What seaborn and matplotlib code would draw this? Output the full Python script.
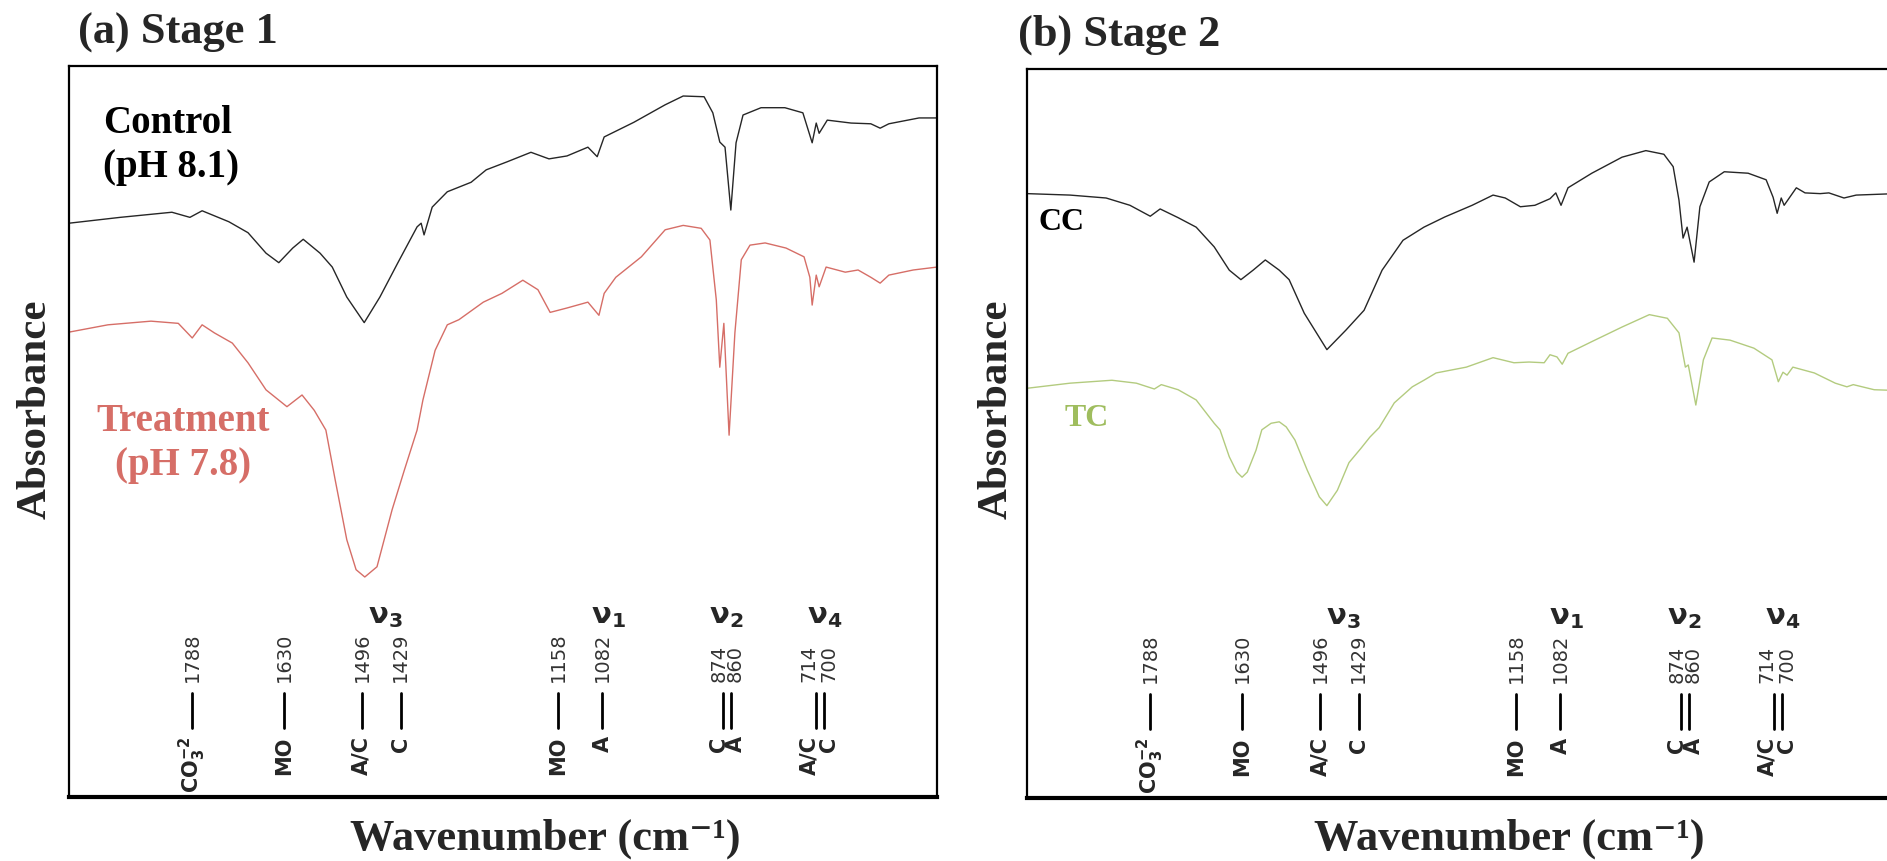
import pandas as pd
import seaborn as sns
import matplotlib.pyplot as plt
from matplotlib.transforms import offset_copy

# Spectra: wavenumber (cm-1) and absorbance (arbitrary units)
control_wn = [2000, 1912, 1823, 1792, 1771, 1725, 1692, 1661, 1639, 1615, 1597, 1568, 1547, 1522,
              1492, 1465, 1434, 1401, 1394, 1389, 1375, 1349, 1308, 1282, 1246, 1205, 1174, 1143,
              1107, 1091, 1079, 1028, 974, 943, 907, 892, 880, 871, 861, 852, 840, 809, 768, 737,
              721, 714, 709, 695, 654, 620, 604, 589, 537, 506]
control_abs = [0.785, 0.793, 0.800, 0.793, 0.802, 0.787, 0.772, 0.744, 0.731, 0.751, 0.763, 0.744,
               0.725, 0.684, 0.649, 0.684, 0.731, 0.780, 0.785, 0.769, 0.807, 0.828, 0.841, 0.858,
               0.869, 0.882, 0.873, 0.877, 0.889, 0.876, 0.903, 0.923, 0.947, 0.959, 0.958, 0.936,
               0.896, 0.889, 0.803, 0.895, 0.933, 0.943, 0.943, 0.936, 0.895, 0.922, 0.908, 0.926,
               0.922, 0.921, 0.915, 0.921, 0.929, 0.929]

treat_wn = [2000, 1933, 1859, 1812, 1788, 1771, 1750, 1719, 1692, 1661, 1625, 1599, 1578, 1558,
            1542, 1522, 1506, 1491, 1470, 1444, 1423, 1401, 1391, 1370, 1349, 1329, 1287, 1255,
            1219, 1193, 1172, 1143, 1107, 1088, 1079, 1059, 1015, 974, 943, 912, 897, 886, 880,
            873, 864, 854, 843, 828, 802, 766, 735, 725, 721, 714, 709, 697, 664, 642, 620, 604,
            589, 547, 506]
treat_abs = [0.636, 0.646, 0.651, 0.648, 0.628, 0.646, 0.635, 0.621, 0.594, 0.557, 0.534, 0.550,
             0.529, 0.502, 0.434, 0.352, 0.311, 0.301, 0.315, 0.393, 0.447, 0.502, 0.543, 0.611,
             0.646, 0.653, 0.677, 0.689, 0.707, 0.694, 0.663, 0.669, 0.677, 0.659, 0.689, 0.711,
             0.739, 0.776, 0.782, 0.778, 0.762, 0.680, 0.588, 0.648, 0.495, 0.635, 0.735, 0.755,
             0.758, 0.751, 0.739, 0.711, 0.673, 0.714, 0.698, 0.725, 0.718, 0.721, 0.711, 0.703,
             0.714, 0.721, 0.725]

cc_wn = [2000, 1926, 1864, 1823, 1788, 1771, 1740, 1709, 1678, 1652, 1632, 1611, 1590, 1566, 1549,
         1523, 1484, 1451, 1420, 1389, 1353, 1317, 1281, 1234, 1198, 1177, 1151, 1126, 1100, 1090,
         1081, 1069, 1028, 976, 935, 904, 888, 878, 871, 864, 852, 842, 826, 800, 759, 728, 716,
         709, 702, 697, 676, 661, 635, 620, 594, 573, 505]
cc_abs = [0.829, 0.827, 0.823, 0.813, 0.798, 0.808, 0.796, 0.783, 0.756, 0.724, 0.711, 0.724, 0.738,
          0.724, 0.711, 0.665, 0.615, 0.642, 0.669, 0.724, 0.765, 0.783, 0.797, 0.813, 0.827, 0.823,
          0.811, 0.813, 0.822, 0.830, 0.813, 0.837, 0.857, 0.879, 0.888, 0.883, 0.866, 0.820, 0.768,
          0.783, 0.735, 0.811, 0.845, 0.859, 0.857, 0.848, 0.824, 0.802, 0.823, 0.813, 0.837, 0.830,
          0.829, 0.830, 0.823, 0.827, 0.829]

tc_wn = [2000, 1926, 1854, 1812, 1781, 1769, 1740, 1709, 1678, 1668, 1652, 1639, 1630, 1621, 1606,
         1596, 1580, 1566, 1554, 1539, 1518, 1497, 1484, 1466, 1446, 1425, 1410, 1394, 1368, 1337,
         1317, 1296, 1244, 1198, 1162, 1136, 1110, 1100, 1088, 1079, 1069, 1028, 976, 929, 898,
         878, 867, 862, 849, 836, 821, 790, 749, 718, 707, 699, 692, 682, 645, 609, 589, 578, 542,
         505]
tc_abs = [0.562, 0.569, 0.573, 0.569, 0.561, 0.567, 0.560, 0.546, 0.514, 0.505, 0.468, 0.447, 0.440,
          0.447, 0.477, 0.505, 0.514, 0.516, 0.509, 0.491, 0.450, 0.413, 0.401, 0.422, 0.460, 0.480,
          0.495, 0.508, 0.542, 0.564, 0.573, 0.583, 0.591, 0.604, 0.597, 0.598, 0.597, 0.608, 0.605,
          0.595, 0.610, 0.626, 0.646, 0.663, 0.658, 0.638, 0.591, 0.594, 0.539, 0.601, 0.631, 0.628,
          0.617, 0.601, 0.571, 0.584, 0.580, 0.591, 0.583, 0.569, 0.564, 0.567, 0.560, 0.559]

# Band assignments marked under the spectra
band_wn = [1788, 1630, 1496, 1429, 1158, 1082, 874, 860, 714, 700]
band_num = ['1788', '1630', '1496', '1429', '1158', '1082', '874', '860', '714', '700']
band_label = [r'$\mathbf{CO_3^{-2}}$', 'MO', 'A/C', 'C', 'MO', 'A', 'C', 'A', 'A/C', 'C']
mode_wn = [1456, 1072, 869, 700]
mode_label = ['3', '1', '2', '4']

control = pd.DataFrame({'wn': control_wn, 'abs': control_abs})
treat = pd.DataFrame({'wn': treat_wn, 'abs': treat_abs})
cc = pd.DataFrame({'wn': cc_wn, 'abs': cc_abs})
tc = pd.DataFrame({'wn': tc_wn, 'abs': tc_abs})

sns.set_style('white')
plt.rcParams['font.family'] = ['DejaVu Sans']
plt.rcParams['mathtext.fontset'] = 'dejavusans'
serif = ['Liberation Serif', 'DejaVu Serif']

black = '#262626'
red = '#d66e67'
green = '#b3cb7f'

fig = plt.figure(figsize=(18.87, 8.61), dpi=100)
ax1 = fig.add_axes([0.0366, 0.0743, 0.460, 0.849])
ax2 = fig.add_axes([0.5443, 0.0732, 0.460, 0.8467])

sns.lineplot(data=control, x='wn', y='abs', ax=ax1, color=black, lw=1.0, sort=False, estimator=None)
sns.lineplot(data=treat, x='wn', y='abs', ax=ax1, color=red, lw=1.0, sort=False, estimator=None)
sns.lineplot(data=cc, x='wn', y='abs', ax=ax2, color=black, lw=1.0, sort=False, estimator=None)
sns.lineplot(data=tc, x='wn', y='abs', ax=ax2, color=green, lw=1.0, sort=False, estimator=None)

# small sideways nudges so the paired labels do not collide
shift_pt = [0, 0, 0, 0, 0, 0, -3, 3, -5, 3]


def draw_bands(ax):
    tr = ax.get_xaxis_transform()
    for w, num, lab, dx in zip(band_wn, band_num, band_label, shift_pt):
        ax.plot([w, w], [0.094, 0.142], color='black', lw=2, transform=tr)
        ttr = offset_copy(tr, fig=fig, x=dx, y=0, units='points')
        ax.text(w, 0.158, num, rotation=90, ha='center', va='bottom', fontsize=14,
                color='#333333', transform=ttr)
        ax.text(w, 0.083, lab, rotation=90, ha='center', va='top', fontsize=15,
                fontweight='bold', transform=ttr)
    for w, m in zip(mode_wn, mode_label):
        ax.text(w, 0.248, 'ν$_{\\mathbf{' + m + '}}$', ha='center', va='center', fontsize=21,
                fontweight='bold', transform=tr)


for ax in (ax1, ax2):
    ax.set_xlim(2000, 506)
    ax.set_ylim(0, 1)
    ax.set_xticks([])
    ax.set_yticks([])
    ax.set_xlabel('')
    ax.set_ylabel('')
    for side, sp in ax.spines.items():
        sp.set_visible(True)
        sp.set_color('black')
        sp.set_linewidth(3 if side == 'bottom' else 1.6)
    draw_bands(ax)

ax1.text(0.039, 0.891, 'Control\n(pH 8.1)', transform=ax1.transAxes, ha='left', va='center',
         fontsize=28, fontweight='bold', family=serif, linespacing=1.25, color='black')
ax1.text(0.131, 0.484, 'Treatment\n(pH 7.8)', transform=ax1.transAxes, ha='center', va='center',
         fontsize=28, fontweight='bold', family=serif, linespacing=1.25, color=red,
         multialignment='center')
ax2.text(0.013, 0.789, 'CC', transform=ax2.transAxes, ha='left', va='center',
         fontsize=23, fontweight='bold', family=serif, color='black')
ax2.text(0.043, 0.520, 'TC', transform=ax2.transAxes, ha='left', va='center',
         fontsize=23, fontweight='bold', family=serif, color='#9fbd5e')

fig.text(0.0413, 0.962, '(a) Stage 1', ha='left', va='center', fontsize=32,
         fontweight='bold', family=serif)
fig.text(0.5395, 0.960, '(b) Stage 2', ha='left', va='center', fontsize=32,
         fontweight='bold', family=serif)
for x in (0.019, 0.528):
    fig.text(x, 0.525, 'Absorbance', rotation=90, ha='center', va='center', fontsize=31,
             fontweight='bold', family=serif)
for x in (0.289, 0.800):
    fig.text(x, 0.026, 'Wavenumber (cm⁻¹)', ha='center', va='center', fontsize=32,
             fontweight='bold', family=serif)

plt.savefig('out.png', dpi=100)
